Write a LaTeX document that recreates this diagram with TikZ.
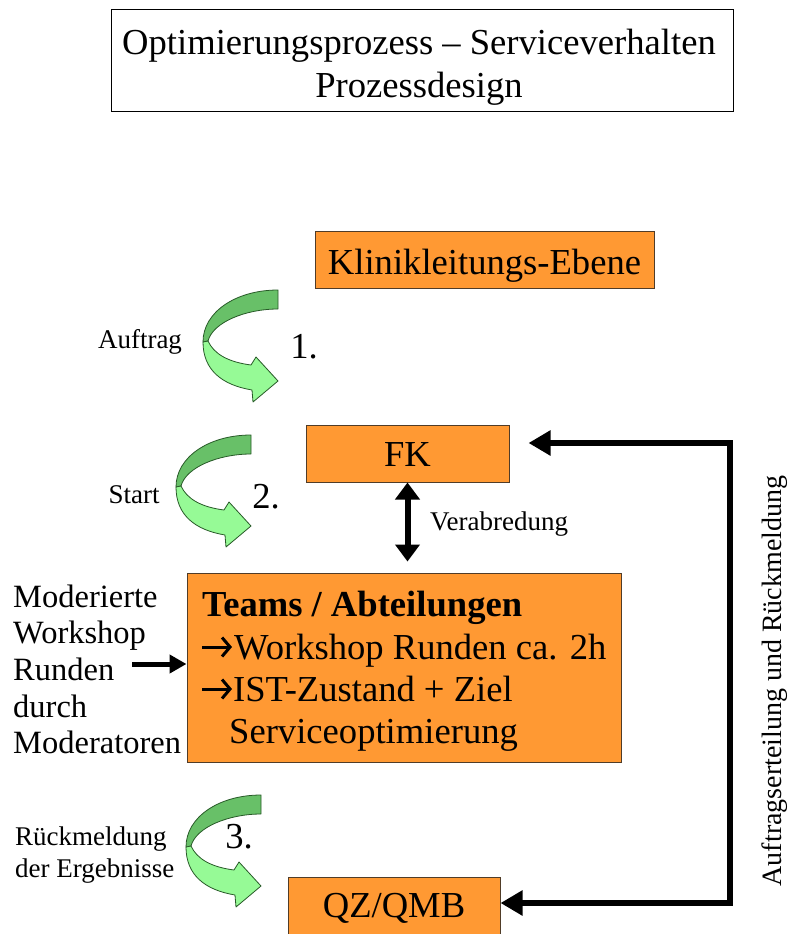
\documentclass[tikz,border=0pt]{standalone}
\usepackage{fontspec}
\setmainfont{Liberation Serif}
\usetikzlibrary{arrows.meta}

\definecolor{boxorange}{RGB}{255,153,51}
\definecolor{boxedge}{RGB}{80,60,40}
\definecolor{ribbondark}{RGB}{104,192,104}
\definecolor{ribbonlight}{RGB}{150,250,150}
\definecolor{ribbonedge}{RGB}{40,90,40}

\newcommand\fsz[1]{\fontsize{#1}{#1}\selectfont}

\tikzset{
  orangebox/.style={draw=boxedge, line width=1pt, fill=boxorange, inner sep=0pt},
  bigtext/.style={font=\fsz{36.6}, inner sep=0pt},
  midtext/.style={font=\fsz{32.5}, inner sep=0pt, anchor=base west},
  smalltext/.style={font=\fsz{27}, inner sep=0pt},
  looparrow/.style={line width=6.5pt, line join=miter,
    {Triangle[length=22pt,width=24pt]}-{Triangle[length=22pt,width=24pt]}},
  pairarrow/.style={line width=6pt,
    {Triangle[length=17pt,width=24pt]}-{Triangle[length=17pt,width=24pt]}},
  feedarrow/.style={line width=5pt, -{Triangle[length=17pt,width=18pt]}},
  bulletarrow/.style={line width=3pt, -{Straight Barb[length=8pt,width=19pt,line width=3pt]}},
  ribbon/.pic={
    % back (darker) half of the turning band
    \filldraw[fill=ribbondark, draw=ribbonedge, line width=0.8pt, line join=round]
      (0,0) .. controls (-42,0) and (-75,22) .. (-75,52)
      -- (-70,51) .. controls (-65,32) and (-32,19) .. (0,19) -- cycle;
    % front (lighter) half ending in the arrow head
    \filldraw[fill=ribbonlight, draw=ribbonedge, line width=0.8pt, line join=round]
      (-70,51) .. controls (-64,64) and (-50,72) .. (-27,75)
      -- (-22,67) -- (0,91) -- (-25,112) -- (-26,100)
      .. controls (-56,95) and (-75,80) .. (-75,52) -- cycle;
  }
}

\begin{document}
\begin{tikzpicture}[x=1pt,y=-1pt]
\useasboundingbox (0,0) rectangle (790,934);

% heading
\node[draw, line width=1pt, minimum width=622pt, minimum height=101pt, inner sep=0pt]
  (titlebox) at (422,60.5) {};
\node[bigtext, anchor=base] (titleA) at (419,55) {Optimierungsprozess – Serviceverhalten};
\node[bigtext, anchor=base] (titleB) at (419,97) {Prozessdesign};

% boxes
\node[orangebox, minimum width=339pt, minimum height=57pt] (klinik) at (484.5,259.5) {};
\node[bigtext, anchor=base] (klinikT) at (484.5,274) {Klinikleitungs-Ebene};

\node[orangebox, minimum width=203pt, minimum height=57pt] (fk) at (407.5,453.5) {};
\node[bigtext, anchor=base] (fkT) at (407.5,466) {FK};

\node[orangebox, minimum width=434pt, minimum height=189pt] (teams) at (404,667.5) {};
\node[bigtext, anchor=base west] (teamsA) at (202,616) {\bfseries Teams / Abteilungen};
\coordinate (bulletB) at (202,647);
\coordinate (bulletC) at (202,689);
\draw[bulletarrow] (bulletB) -- ++(30,0);
\draw[bulletarrow] (bulletC) -- ++(30,0);
\node[bigtext, anchor=base west] (teamsB) at (234,659) {Workshop Runden ca. 2h};
\node[bigtext, anchor=base west] (teamsC) at (233,701) {IST-Zustand + Ziel};
\node[bigtext, anchor=base west] (teamsD) at (229,743) {Serviceoptimierung};

\node[orangebox, minimum width=212pt, minimum height=68pt] (qz) at (394,911) {};
\node[bigtext, anchor=base] (qzT) at (394,917) {QZ/QMB};

% FK <-> Teams
\draw[pairarrow, shorten >=11pt] (fk.south) -- (fk.south |- teams.north);
\node[smalltext, anchor=base west] (verab) at (430,530) {Verabredung};

% return loop on the right
\coordinate (looptop) at (730,443);
\coordinate (loopbottom) at (730,903);
\draw[looparrow, shorten <=19pt] (fk.east |- looptop) -- (looptop) -- (loopbottom) -- (qz.east |- loopbottom);
\node[font=\fsz{28}, inner sep=0pt, rotate=90] (loopT) at (775,681) {Auftragserteilung und Rückmeldung};

% moderated workshops feeding the teams
\node[midtext] (modA) at (13,607) {Moderierte};
\node[midtext] (modB) at (13,643) {Workshop};
\node[midtext] (modC) at (13,680) {Runden};
\node[midtext] (modD) at (13,717) {durch};
\node[midtext] (modE) at (13,753) {Moderatoren};
\coordinate (feedstart) at (132,664);
\draw[feedarrow] (feedstart) -- (teams.west |- feedstart);

% turning arrows with steps
\pic (stepone) at (278,290) {ribbon};
\node[smalltext, anchor=base] (auftrag) at (140,348) {Auftrag};
\node[bigtext, anchor=base] (numone) at (304,358) {1.};

\pic (steptwo) at (251,435) {ribbon};
\node[smalltext, anchor=base] (start) at (134,503) {Start};
\node[bigtext, anchor=base] (numtwo) at (266,508) {2.};

\pic (stepthree) at (261,795) {ribbon};
\node[smalltext, anchor=base west] (rueckA) at (15,845) {Rückmeldung};
\node[smalltext, anchor=base west] (rueckB) at (15,877) {der Ergebnisse};
\node[bigtext, anchor=base] (numthree) at (239,848) {3.};
\end{tikzpicture}
\end{document}
